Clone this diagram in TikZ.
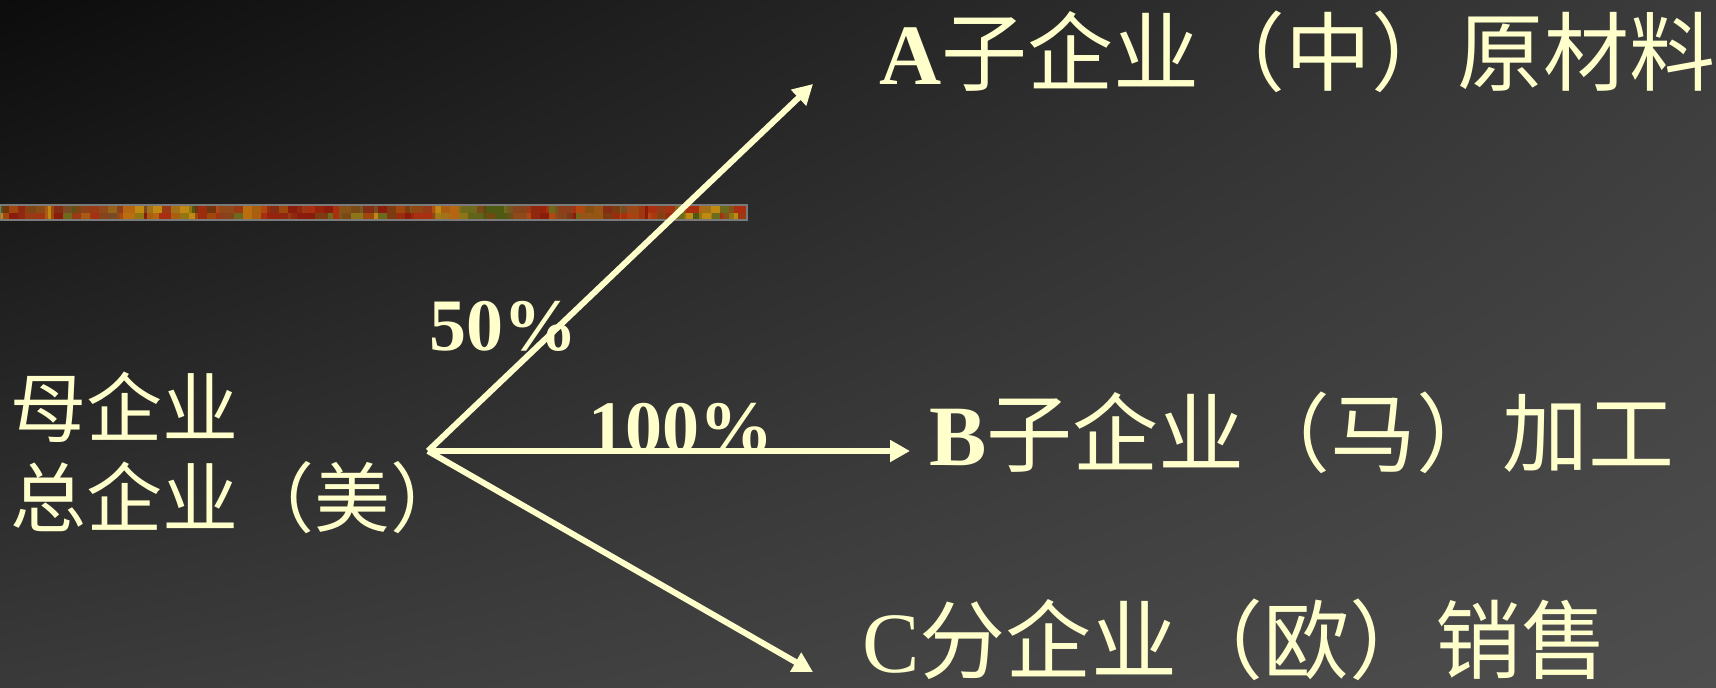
\documentclass[tikz,border=0pt]{standalone}
\usepackage{fontspec}
\setmainfont{Liberation Serif}
\newfontfamily\cjk{Noto Sans CJK SC}
\usetikzlibrary{arrows.meta,shadings}
\definecolor{txt}{HTML}{FFFFCC}
\definecolor{bgUL}{HTML}{0C0C0C}
\definecolor{bgUR}{HTML}{3C3C3C}
\definecolor{bgLL}{HTML}{3A3A3A}
\definecolor{bgLR}{HTML}{4E4E4E}
\definecolor{band0}{HTML}{8A1C0C}
\definecolor{band1}{HTML}{B0480F}
\definecolor{band2}{HTML}{6E6A1C}
\definecolor{band3}{HTML}{C08A12}
\definecolor{band4}{HTML}{7A4A22}
\definecolor{band5}{HTML}{A83010}
\definecolor{band6}{HTML}{9A3A14}
\definecolor{band7}{HTML}{4E5A12}
\definecolor{bandedge}{HTML}{7A7A7A}
\tikzset{
  lbl/.style={text=txt, inner sep=0pt, anchor=base west},
  bigtxt/.style={lbl, font=\fontsize{86}{86}\selectfont},
  lefttxt/.style={lbl, font=\fontsize{76}{76}\selectfont\cjk},
  pct/.style={lbl, font=\fontsize{74}{74}\selectfont\bfseries},
  arr/.style={draw=txt, line width=6pt, -{Triangle[length=20pt,width=21pt]}}
}
\begin{document}
\begin{tikzpicture}[x=1pt,y=-1pt]
\useasboundingbox (0,0) rectangle (1716,688);
\shade[upper left=bgUL, upper right=bgUR, lower left=bgLL, lower right=bgLR] (0,0) rectangle (1716,688);
% decorative band
\begin{scope}
\clip (0,205) rectangle (747,220);
\pgfmathsetseed{11}
\foreach \i in {0,...,83}{
  \foreach \j in {0,1}{
    \pgfmathrandominteger{\r}{0}{7}
    \fill[band\r] (\i*9,205+\j*7.5) rectangle ++(9,7.5);
  }
}
\foreach \i in {0,...,30}{
  \pgfmathrandominteger{\r}{0}{7}
  \pgfmathrandominteger{\w}{10}{30}
  \fill[band\r, opacity=0.6] (\i*24+3,205) rectangle ++(\w,15);
}
\end{scope}
\draw[bandedge, line width=1.5pt] (0,205) rectangle (747,220);
% texts
\node[lefttxt] (P1) at (10,436) {母企业};
\node[lefttxt] (P2) at (10,526) {总企业（美）};
\node[bigtxt] (A) at (879,84) {{\bfseries A}{\cjk 子企业（中）原材料}};
\node[bigtxt] (B) at (929,465) {{\bfseries B}{\cjk 子企业（马）加工}};
\node[bigtxt] (C) at (862,672) {C{\cjk 分企业（欧）销售}};
\node[pct] (p50) at (429,350) {50\%};
\node[pct] (p100) at (588,452) {100\%};
% connectors
\coordinate (O) at (428,451);
\coordinate (tA) at (813,84);
\coordinate (tB) at (910,451);
\coordinate (tC) at (813,672);
\draw[arr] (O) -- (tA);
\draw[arr] (O) -- (tB);
\draw[arr] (O) -- (tC);
\end{tikzpicture}
\end{document}
